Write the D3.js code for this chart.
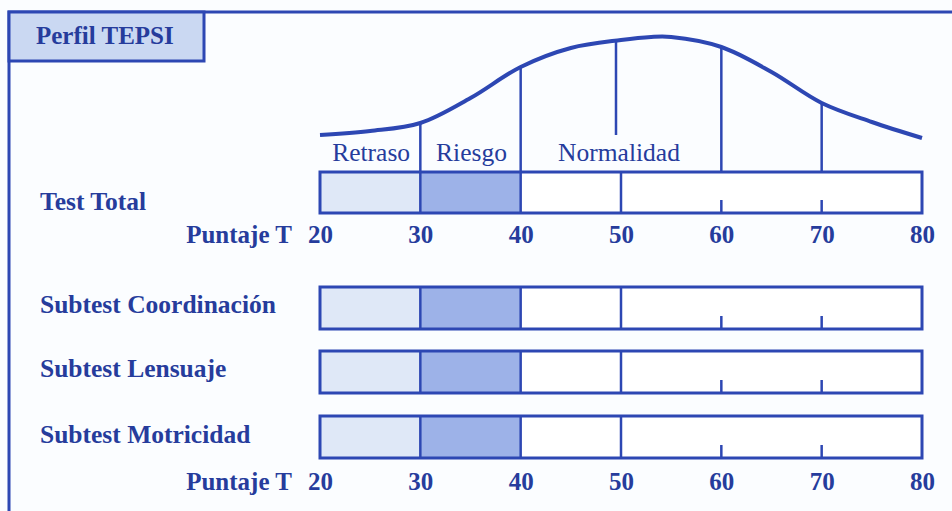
<!DOCTYPE html>
<html>
<head>
<meta charset="utf-8">
<script src="https://cdn.jsdelivr.net/npm/d3@7"></script>
<style>
  html, body { margin: 0; padding: 0; background: #fbfdff; }
  svg { display: block; }
  text { font-family: "Liberation Serif", "Times New Roman", serif; }
</style>
</head>
<body>
<svg id="chart" width="952" height="511"></svg>
<script>
// ---- data ----
const title = "Perfil TEPSI";
const rowLabels = ["Test Total", "Subtest Coordinación", "Subtest Lensuaje", "Subtest Motricidad"];
const tickValues = [20, 30, 40, 50, 60, 70, 80];
const axisTitle = "Puntaje T";
const zoneNames = ["Retraso", "Riesgo", "Normalidad"];
const zoneFrom = [20, 30, 40];
const zoneTo = [30, 40, 80];
const zoneLabelAt = [25, 35, 50];
const fullLines = [30, 40, 50];
const shortTicks = [60, 70];
const curveLines = [30, 40, 60, 70];
const meanLine = [50];
// bell curve (T score, relative height)
const curveT = [20, 25, 30, 35, 40, 45, 50, 53, 55, 60, 65, 70, 75, 80];
const curveH = [10, 14, 22, 47, 78, 97, 105, 108, 108, 98, 73, 42, 23, 7];

// ---- styles ----
const blue = "#2d47b3";
const textBlue = "#263c9c";
const zoneFill = ["#dfe8f7", "#9db2e8", "#ffffff"];

const svg = d3.select("#chart");
const x = d3.scaleLinear().domain([20, 80]).range([320, 922]);
const yc = d3.scaleLinear().domain([0, 100]).range([145, 45]);

// frame
svg.append("path")
  .attr("d", "M9,511 L9,12 L952,12")
  .attr("fill", "none").attr("stroke", blue).attr("stroke-width", 3);
svg.append("rect")
  .attr("x", 9).attr("y", 12).attr("width", 195).attr("height", 49)
  .attr("fill", "#cad8f2").attr("stroke", blue).attr("stroke-width", 3);
svg.append("text")
  .attr("x", 36).attr("y", 44)
  .attr("font-size", 25).attr("font-weight", "bold").attr("fill", textBlue)
  .text(title);

// bell curve
const curvePts = curveT.map((t, i) => [t, curveH[i]]);
const interp = d3.scaleLinear().domain(curveT).range(curveH);
svg.append("path")
  .datum(curvePts)
  .attr("d", d3.line().x(d => x(d[0])).y(d => yc(d[1])).curve(d3.curveCatmullRom.alpha(0.5)))
  .attr("fill", "none").attr("stroke", blue).attr("stroke-width", 4);

// bar rows
const rows = [
  { label: rowLabels[0], top: 172, h: 41, labelY: 210 },
  { label: rowLabels[1], top: 287, h: 42, labelY: 313 },
  { label: rowLabels[2], top: 351, h: 42, labelY: 377 },
  { label: rowLabels[3], top: 416, h: 42, labelY: 443 }
];

// vertical lines from curve down to the first bar
svg.selectAll("line.cl").data(curveLines).join("line")
  .attr("class", "cl")
  .attr("x1", d => x(d)).attr("x2", d => x(d))
  .attr("y1", d => yc(interp(d))).attr("y2", rows[0].top)
  .attr("stroke", blue).attr("stroke-width", 2.5);
svg.selectAll("line.ml").data(meanLine).join("line")
  .attr("class", "ml")
  .attr("x1", d => x(d) - 5).attr("x2", d => x(d) - 5)
  .attr("y1", d => yc(interp(d))).attr("y2", 135)
  .attr("stroke", blue).attr("stroke-width", 2.5);

// zone labels
svg.selectAll("text.zone").data(zoneNames).join("text")
  .attr("class", "zone")
  .attr("x", (d, i) => x(zoneLabelAt[i]) + (i === 2 ? -2 : 1)).attr("y", 161)
  .attr("text-anchor", "middle").attr("font-size", 25.5).attr("fill", textBlue)
  .text(d => d);

rows.forEach(r => {
  const g = svg.append("g");
  g.selectAll("rect.z").data(zoneFrom).join("rect")
    .attr("x", (d) => x(d)).attr("y", r.top)
    .attr("width", (d, i) => x(zoneTo[i]) - x(d)).attr("height", r.h)
    .attr("fill", (d, i) => zoneFill[i]);
  g.selectAll("line.f").data(fullLines).join("line")
    .attr("x1", d => x(d)).attr("x2", d => x(d))
    .attr("y1", r.top).attr("y2", r.top + r.h)
    .attr("stroke", blue).attr("stroke-width", 2.5);
  g.selectAll("line.s").data(shortTicks).join("line")
    .attr("x1", d => x(d)).attr("x2", d => x(d))
    .attr("y1", r.top + r.h - 13).attr("y2", r.top + r.h)
    .attr("stroke", blue).attr("stroke-width", 2.5);
  g.append("rect")
    .attr("x", x(20)).attr("y", r.top)
    .attr("width", x(80) - x(20)).attr("height", r.h)
    .attr("fill", "none").attr("stroke", blue).attr("stroke-width", 3);
  g.append("text")
    .attr("x", 40).attr("y", r.labelY)
    .attr("font-size", 25.5).attr("font-weight", "bold").attr("fill", textBlue)
    .text(r.label);
});

// axes
[243, 490].forEach(base => {
  const ax = svg.append("g")
    .attr("transform", `translate(0,${base - 18})`)
    .call(d3.axisBottom(x).tickValues(tickValues).tickSize(0).tickPadding(0).tickFormat(d3.format("d")));
  ax.select(".domain").remove();
  ax.selectAll("text")
    .attr("font-family", "Liberation Serif, serif")
    .attr("font-size", 25).attr("font-weight", "bold").attr("fill", textBlue);
  svg.append("text")
    .attr("x", 292).attr("y", base)
    .attr("text-anchor", "end")
    .attr("font-size", 25).attr("font-weight", "bold").attr("fill", textBlue)
    .text(axisTitle);
});
</script>
</body>
</html>
